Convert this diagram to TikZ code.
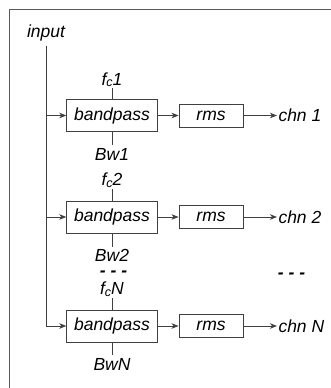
\documentclass[tikz,border=0pt]{standalone}
\usepackage{fontspec}
\setmainfont{Liberation Sans}
\usetikzlibrary{arrows.meta}
\newcommand{\fcsub}{f\raisebox{-1.5pt}{\fontsize{12.5}{12.5}\selectfont c}}
\begin{document}
\begin{tikzpicture}[x=1pt,y=-1pt,
  every node/.style={font=\fontsize{17.5}{20}\selectfont\itshape, text=black},
  line/.style={draw=black!75, line width=0.9pt},
  arr/.style={line, -{Stealth[length=7pt,width=5.5pt,inset=2pt]}},
  bpbox/.style={draw=black!75, line width=0.9pt, minimum width=90.5pt, minimum height=32pt, inner sep=0pt},
  rmsbox/.style={draw=black!75, line width=0.9pt, minimum width=64pt, minimum height=23pt, inner sep=0pt},
  lbl/.style={inner sep=0pt, outer sep=1.5pt},
  dotsty/.style={inner sep=0pt, text height=6pt, text depth=0pt, anchor=base, font=\fontsize{17.5}{20}\selectfont\bfseries\itshape},
  frame/.style={draw=black!65, line width=1.4pt}
]
\useasboundingbox (0,0) rectangle (330,388);
\draw[frame] (9.5,390) -- (9.5,9.5) -- (332,9.5);

\node[lbl, anchor=base, outer sep=5pt] (input) at (46,37) {input};

% row 1
\node[bpbox] (bp1) at (112,115.5) {bandpass};
\node[rmsbox] (rms1) at (211,115.5) {rms};
\node[lbl, anchor=west] (chn1) at (277,115.5) {chn 1};
\node[lbl, anchor=base] (fc1) at (112,85) {\fcsub1};
\node[lbl, anchor=north, outer sep=3pt] (bw1) at (112,145) {Bw1};

% row 2
\node[bpbox] (bp2) at (112,217) {bandpass};
\node[rmsbox] (rms2) at (211,217) {rms};
\node[lbl, anchor=west] (chn2) at (277,217) {chn 2};
\node[lbl, anchor=base] (fc2) at (112,185.5) {\fcsub2};
\node[lbl, anchor=north, outer sep=3pt] (bw2) at (112,246.5) {Bw2};

% dots
\node[dotsty] (dotsL) at (113.5,276) {- - -};
\node[dotsty] (dotsR) at (291.5,278) {- - -};

% row N
\node[bpbox] (bpN) at (112,326) {bandpass};
\node[rmsbox] (rmsN) at (211,326) {rms};
\node[lbl, anchor=west] (chnN) at (277,326) {chn N};
\node[lbl, anchor=base] (fcN) at (112,294.5) {\fcsub N};
\node[lbl, anchor=north, outer sep=3pt] (bwN) at (112,355) {BwN};

% input trunk
\draw[arr] (input.south) |- (bpN.west);
\draw[arr] (input.south |- bp1.west) -- (bp1.west);
\draw[arr] (input.south |- bp2.west) -- (bp2.west);

\foreach \i in {1,2,N}{
  \draw[arr] (bp\i.east) -- (rms\i.west);
  \draw[arr] (rms\i.east) -- (chn\i.west);
  \draw[line] (bp\i.north) -- (fc\i.south);
  \draw[line] (bp\i.south) -- (bw\i.north);
}
\end{tikzpicture}
\end{document}
